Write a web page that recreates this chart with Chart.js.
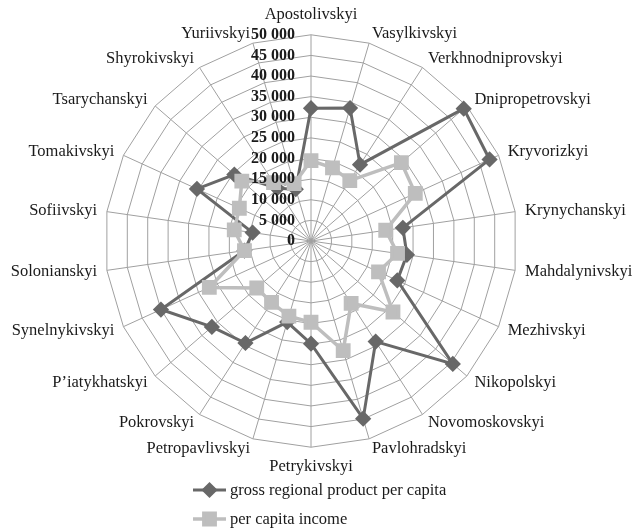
<!DOCTYPE html>
<html>
<head>
<meta charset="utf-8">
<script src="https://cdn.jsdelivr.net/npm/chart.js@4"></script>
<style>
    html, body { margin: 0; padding: 0; background: #fff; }
    #wrap { width: 642px; height: 529px; }
</style>
</head>
<body>
<div id="wrap"><canvas id="chart"></canvas></div>
<script>
const districts = [
    "Apostolivskyi", "Vasylkivskyi", "Verkhnodniprovskyi", "Dnipropetrovskyi", "Kryvorizkyi",
    "Krynychanskyi", "Mahdalynivskyi", "Mezhivskyi", "Nikopolskyi", "Novomoskovskyi",
    "Pavlohradskyi", "Petrykivskyi", "Petropavlivskyi", "Pokrovskyi", "P\u2019iatykhatskyi",
    "Synelnykivskyi", "Solonianskyi", "Sofiivskyi", "Tomakivskyi", "Tsarychanskyi",
    "Shyrokivskyi", "Yuriivskyi"
];
const grpPerCapita = [
    32200, 33600, 22000, 49000, 47600,
    22500, 23500, 23000, 45500, 29000,
    44900, 24900, 20500, 29400, 31800,
    40000, 16300, 14300, 30400, 24600,
    15200, 13100
];
const incomePerCapita = [
    19500, 18500, 17400, 29000, 27800,
    18300, 21200, 18000, 26300, 18000,
    27700, 19700, 19000, 17700, 17400,
    27100, 16300, 18800, 19100, 22200,
    16800, 14500
];
const tickValues = [0, 5000, 10000, 15000, 20000, 25000, 30000, 35000, 40000, 45000, 50000];
const seriesNames = ["gross regional product per capita", "per capita income"];

const DARK = "#686868";
const LIGHT = "#bebebe";
const GRID = "#a0a0a0";
const TEXT = "#1a1a1a";
const FONT = "'Liberation Serif', 'Times New Roman', serif";

function formatTick(v) {
    return String(v).replace(/\B(?=(\d{3})+(?!\d))/g, " ");
}

// category labels: left/right aligned and vertically centred like the office chart
const categoryLabels = {
    id: "categoryLabels",
    afterDraw(chart) {
        const scale = chart.scales.r;
        const ctx = chart.ctx;
        ctx.save();
        ctx.font = "16.5px " + FONT;
        ctx.fillStyle = TEXT;
        districts.forEach((name, i) => {
            const angle = scale.getIndexAngle(i);
            const pos = scale.getPointPosition(i, scale.drawingArea + 10);
            const s = Math.sin(angle);
            const c = Math.cos(angle);
            let y = pos.y;
            if (Math.abs(s) < 0.01) {
                ctx.textAlign = "center";
                y += c > 0 ? -10 : 9;
            } else {
                ctx.textAlign = s > 0 ? "left" : "right";
            }
            ctx.textBaseline = "middle";
            ctx.fillText(name, pos.x, y);
        });
        ctx.restore();
    }
};

// tick labels sit left of the axis and the legend shows line + marker
const radarExtras = {
    id: "radarExtras",
    afterDraw(chart) {
        const scale = chart.scales.r;
        const ctx = chart.ctx;
        ctx.save();
        ctx.font = "bold 16px " + FONT;
        ctx.fillStyle = TEXT;
        ctx.textAlign = "right";
        ctx.textBaseline = "middle";
        tickValues.forEach(v => {
            const d = scale.getDistanceFromCenterForValue(v);
            ctx.fillText(formatTick(v), scale.xCenter - 16, scale.yCenter - d);
        });

        const legendX = 193;
        const legendY = [490, 519];
        chart.data.datasets.forEach((ds, i) => {
            const y = legendY[i];
            ctx.strokeStyle = ds.borderColor;
            ctx.lineWidth = ds.borderWidth;
            ctx.beginPath();
            ctx.moveTo(legendX, y);
            ctx.lineTo(legendX + 33, y);
            ctx.stroke();
            ctx.fillStyle = ds.pointBackgroundColor;
            ctx.strokeStyle = ds.pointBorderColor;
            Chart.helpers.drawPoint(ctx, {
                pointStyle: ds.pointStyle,
                radius: ds.pointRadius,
                rotation: 0,
                borderWidth: 1
            }, legendX + 16.5, y);
            ctx.fillStyle = TEXT;
            ctx.font = "16.5px " + FONT;
            ctx.textAlign = "left";
            ctx.fillText(ds.label, legendX + 37, y + 1);
        });
        ctx.restore();
    }
};

const ctx = document.getElementById("chart").getContext("2d");
const chart = new Chart(ctx, {
    type: "radar",
    data: {
        labels: districts,
        datasets: [
            {
                label: seriesNames[0],
                data: grpPerCapita,
                borderColor: DARK,
                backgroundColor: DARK,
                borderWidth: 3,
                pointStyle: "rectRot",
                pointRadius: 6,
                pointBackgroundColor: DARK,
                pointBorderColor: DARK,
                fill: false,
                tension: 0,
                order: 2
            },
            {
                label: seriesNames[1],
                data: incomePerCapita,
                borderColor: LIGHT,
                backgroundColor: LIGHT,
                borderWidth: 3.5,
                pointStyle: "rect",
                pointRadius: 8,
                pointBackgroundColor: LIGHT,
                pointBorderColor: LIGHT,
                fill: false,
                tension: 0,
                order: 1
            }
        ]
    },
    options: {
        responsive: true,
        maintainAspectRatio: false,
        animation: false,
        layout: { padding: { top: 5, left: 4, right: 2, bottom: 52 } },
        plugins: {
            legend: { display: false },
            tooltip: { enabled: false }
        },
        scales: {
            r: {
                min: 0,
                max: 50000,
                ticks: { stepSize: 5000, display: false },
                grid: { color: GRID, lineWidth: 1 },
                angleLines: { color: GRID, lineWidth: 1 },
                pointLabels: {
                    // kept for the layout fit only, the visible labels come from categoryLabels
                    font: { family: FONT, size: 16 },
                    color: "rgba(0,0,0,0)",
                    padding: 10
                }
            }
        }
    },
    plugins: [categoryLabels, radarExtras]
});
</script>
</body>
</html>
